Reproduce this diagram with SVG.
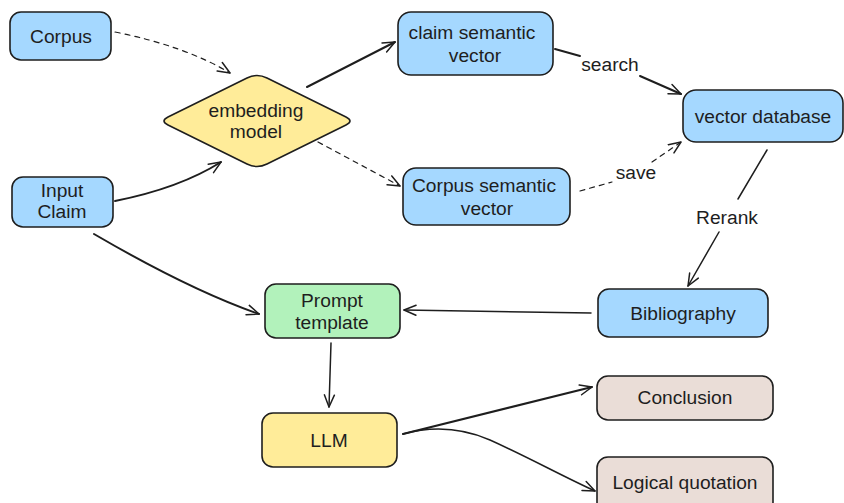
<svg xmlns="http://www.w3.org/2000/svg" width="844" height="503" viewBox="0 0 844 503">
  <defs>
    <marker id="arrow" viewBox="-13 -7 15 14" refX="0" refY="0" markerWidth="15" markerHeight="14" markerUnits="userSpaceOnUse" orient="auto">
      <path d="M -12 -5 L 0 0 L -12 5" fill="none" stroke="#1e1e1e" stroke-width="1.5" stroke-linecap="round" stroke-linejoin="round" stroke-dasharray="none"/>
    </marker>
  </defs>
  <style>
    .node { stroke: #1e1e1e; stroke-width: 1.6; }
    .blue { fill: #a5d8ff; }
    .yellow { fill: #ffec99; }
    .green { fill: #b2f2bb; }
    .beige { fill: #eaddd7; }
    text { font-family: "Liberation Sans", Arial, sans-serif; font-size: 19.2px; fill: #1e1e1e; text-anchor: middle; }
    .edge { fill: none; stroke: #1e1e1e; stroke-width: 1.5; stroke-linecap: round; }
    .thick { stroke-width: 2; }
    .dash { stroke-dasharray: 5 5; stroke-width: 1.2; }
  </style>
  <rect width="844" height="503" fill="#ffffff"/>

  <g id="connectors">
    <!-- Corpus to embedding model -->
    <path class="edge dash" d="M 115 32 Q 185 46 230 73" marker-end="url(#arrow)"/>
    <!-- Input Claim to embedding model -->
    <path class="edge thick" d="M 115 201 Q 180 188 221 162" marker-end="url(#arrow)"/>
    <!-- embedding model to claim semantic vector -->
    <path class="edge thick" d="M 307 87 L 395 42" marker-end="url(#arrow)"/>
    <!-- embedding model to Corpus semantic vector -->
    <path class="edge dash" d="M 318 142 L 400 186" marker-end="url(#arrow)"/>
    <!-- claim semantic vector to vector database (search) -->
    <path class="edge thick" d="M 555 49 L 580 56"/>
    <path class="edge thick" d="M 640 76 L 681 94" marker-end="url(#arrow)"/>
    <text x="610" y="71">search</text>
    <!-- Corpus semantic vector to vector database (save) -->
    <path class="edge dash" d="M 580 191 L 612 182"/>
    <path class="edge dash" d="M 652 162 L 681 142" marker-end="url(#arrow)"/>
    <text x="636" y="179">save</text>
    <!-- vector database to Bibliography (Rerank) -->
    <path class="edge" d="M 767 150 L 738 199"/>
    <path class="edge" d="M 719 232 L 688 286" marker-end="url(#arrow)"/>
    <text x="727" y="224">Rerank</text>
    <!-- Bibliography to Prompt template -->
    <path class="edge" d="M 591 313 L 404 310" marker-end="url(#arrow)"/>
    <!-- Input Claim to Prompt template -->
    <path class="edge thick" d="M 94 234 Q 190 290 259 314" marker-end="url(#arrow)"/>
    <!-- Prompt template to LLM -->
    <path class="edge" d="M 331 343 L 329 407" marker-end="url(#arrow)"/>
    <!-- LLM to Conclusion -->
    <path class="edge thick" d="M 403 434 L 592 387" marker-end="url(#arrow)"/>
    <!-- LLM to Logical quotation -->
    <path class="edge" d="M 403 434 C 425 428 455 425 490 440 C 530 458 560 475 595 491" marker-end="url(#arrow)"/>
  </g>

  <g id="corpus">
    <rect class="node blue" x="10" y="12" width="101" height="48" rx="11"/>
    <text x="61" y="43">Corpus</text>
  </g>
  <g id="input-claim">
    <rect class="node blue" x="12" y="177" width="101" height="50" rx="11"/>
    <text x="62" y="197">Input</text>
    <text x="62" y="218">Claim</text>
  </g>
  <g id="embedding-model">
    <path class="node yellow" d="M 247 78 Q 257 73 267 78 L 346 117 Q 354 121 346 125 L 267 164 Q 257 169 247 164 L 168 125 Q 160 121 168 117 Z"/>
    <text x="256" y="117">embedding</text>
    <text x="256" y="138">model</text>
  </g>
  <g id="claim-semantic-vector">
    <rect class="node blue" x="398" y="12" width="155" height="63" rx="13"/>
    <text x="472" y="39">claim semantic</text>
    <text x="475" y="62">vector</text>
  </g>
  <g id="corpus-semantic-vector">
    <rect class="node blue" x="403" y="168" width="167" height="57" rx="13"/>
    <text x="484" y="192">Corpus semantic</text>
    <text x="487" y="215">vector</text>
  </g>
  <g id="vector-database">
    <rect class="node blue" x="683" y="90" width="160" height="52" rx="13"/>
    <text x="763" y="123">vector database</text>
  </g>
  <g id="bibliography">
    <rect class="node blue" x="598" y="289" width="170" height="48" rx="11"/>
    <text x="683" y="320">Bibliography</text>
  </g>
  <g id="prompt-template">
    <rect class="node green" x="265" y="284" width="135" height="54" rx="11"/>
    <text x="332" y="307">Prompt</text>
    <text x="332" y="329">template</text>
  </g>
  <g id="llm">
    <rect class="node yellow" x="262" y="413" width="135" height="54" rx="11"/>
    <text x="329" y="447">LLM</text>
  </g>
  <g id="conclusion">
    <rect class="node beige" x="597" y="376" width="176" height="44" rx="11"/>
    <text x="685" y="404">Conclusion</text>
  </g>
  <g id="logical-quotation">
    <rect class="node beige" x="597" y="457" width="176" height="56" rx="11"/>
    <text x="685" y="489">Logical quotation</text>
  </g>
</svg>
